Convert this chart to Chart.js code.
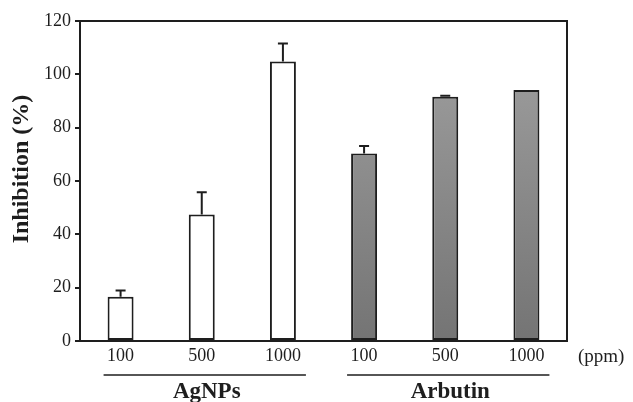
<!DOCTYPE html>
<html>
<head>
<meta charset="utf-8">
<script src="https://cdn.jsdelivr.net/npm/chart.js@4/dist/chart.umd.min.js"></script>
<style>
  html, body { margin: 0; padding: 0; background: #fff; }
  #wrap { width: 633px; height: 402px; }
</style>
</head>
<body>
<div id="wrap"><canvas id="myChart" width="633" height="402"></canvas></div>
<script>
const etiquetas = ["100", "500", "1000", "100", "500", "1000"];
const grupos = ["AgNPs", "AgNPs", "AgNPs", "Arbutin", "Arbutin", "Arbutin"];
const inhibicion = [16.6, 47.4, 104.8, 70.3, 91.6, 94.1];
const errores = [2.3, 8.4, 6.8, 2.8, 0.4, 0];
const ticksY = [0, 20, 40, 60, 80, 100, 120];
const tituloY = "Inhibition (%)";

const serif = "'Liberation Serif', 'Times New Roman', serif";
const tinta = "#1e1e1e";

function colorBarra(ctx) {
  const i = ctx.dataIndex;
  if (grupos[i] === "AgNPs") return "#ffffff";
  const area = ctx.chart.chartArea;
  if (!area) return "#8a8a8a";
  const g = ctx.chart.ctx.createLinearGradient(0, area.top, 0, area.bottom);
  g.addColorStop(0, "#a2a2a2");
  g.addColorStop(1, "#747474");
  return g;
}

// barras de error, marco, titulo, grupos y unidad
const extras = {
  id: "extras",
  afterDatasetsDraw(chart) {
    const c = chart.ctx;
    const x = chart.scales.x;
    const y = chart.scales.y;
    const a = chart.chartArea;
    c.save();
    c.strokeStyle = tinta;
    c.lineWidth = 2;

    // error
    inhibicion.forEach((v, i) => {
      if (!errores[i]) return;
      const px = x.getPixelForValue(i);
      const y0 = y.getPixelForValue(v);
      const y1 = y.getPixelForValue(v + errores[i]);
      c.beginPath();
      c.moveTo(px, y0);
      c.lineTo(px, y1);
      c.moveTo(px - 5, y1);
      c.lineTo(px + 5, y1);
      c.stroke();
    });

    // marco arriba y derecha
    c.beginPath();
    c.moveTo(a.left, a.top);
    c.lineTo(a.right, a.top);
    c.lineTo(a.right, a.bottom);
    c.stroke();

    // titulo eje y (un poco por encima del centro, como el original)
    c.fillStyle = tinta;
    c.save();
    c.translate(22, (a.top + a.bottom) / 2 - 12);
    c.rotate(-Math.PI / 2);
    c.font = "bold 24px " + serif;
    c.textAlign = "center";
    c.textBaseline = "middle";
    c.fillText(tituloY, 0, 0);
    c.restore();

    // (ppm)
    c.font = "19px " + serif;
    c.textAlign = "left";
    c.textBaseline = "middle";
    c.fillText("(ppm)", a.right + 11, a.bottom + 16);

    // grupos
    const nombres = [...new Set(grupos)];
    c.lineWidth = 1.5;
    nombres.forEach(n => {
      const idx = grupos.map((g, i) => g === n ? i : -1).filter(i => i >= 0);
      const xi = x.getPixelForValue(idx[0]) - 17;
      const xf = x.getPixelForValue(idx[idx.length - 1]) + 23;
      const ly = a.bottom + 34;
      c.beginPath();
      c.moveTo(xi, ly);
      c.lineTo(xf, ly);
      c.stroke();
      c.font = "bold 23px " + serif;
      c.textAlign = "center";
      c.textBaseline = "top";
      c.fillText(n, (xi + xf) / 2 + 2, ly + 6);
    });
    c.restore();
  }
};

const ctx = document.getElementById("myChart");
const myChart = new Chart(ctx, {
  type: "bar",
  data: {
    labels: etiquetas,
    datasets: [{
      label: "Inhibition",
      data: inhibicion,
      backgroundColor: colorBarra,
      borderColor: tinta,
      borderWidth: 2,
      borderSkipped: false,
      barPercentage: 0.32,
      categoryPercentage: 1
    }]
  },
  options: {
    responsive: false,
    animation: false,
    layout: { padding: { left: 0, top: 21, right: 66, bottom: 0 } },
    plugins: {
      legend: { display: false },
      tooltip: { enabled: false }
    },
    scales: {
      x: {
        grid: { display: false, drawTicks: false },
        border: { display: true, color: tinta, width: 2 },
        ticks: { color: tinta, font: { family: serif, size: 18 }, padding: 4, maxRotation: 0 },
        afterFit(s) { s.height = 61; }
      },
      y: {
        min: 0,
        max: 120,
        afterBuildTicks(s) { s.ticks = ticksY.map(v => ({ value: v })); },
        grid: { drawOnChartArea: false, drawTicks: true, tickLength: 5, color: tinta, lineWidth: 2 },
        border: { display: true, color: tinta, width: 2 },
        ticks: { color: tinta, font: { family: serif, size: 18 }, padding: 4 },
        afterFit(s) { s.width = 80; }
      }
    }
  },
  plugins: [extras]
});
</script>
</body>
</html>
